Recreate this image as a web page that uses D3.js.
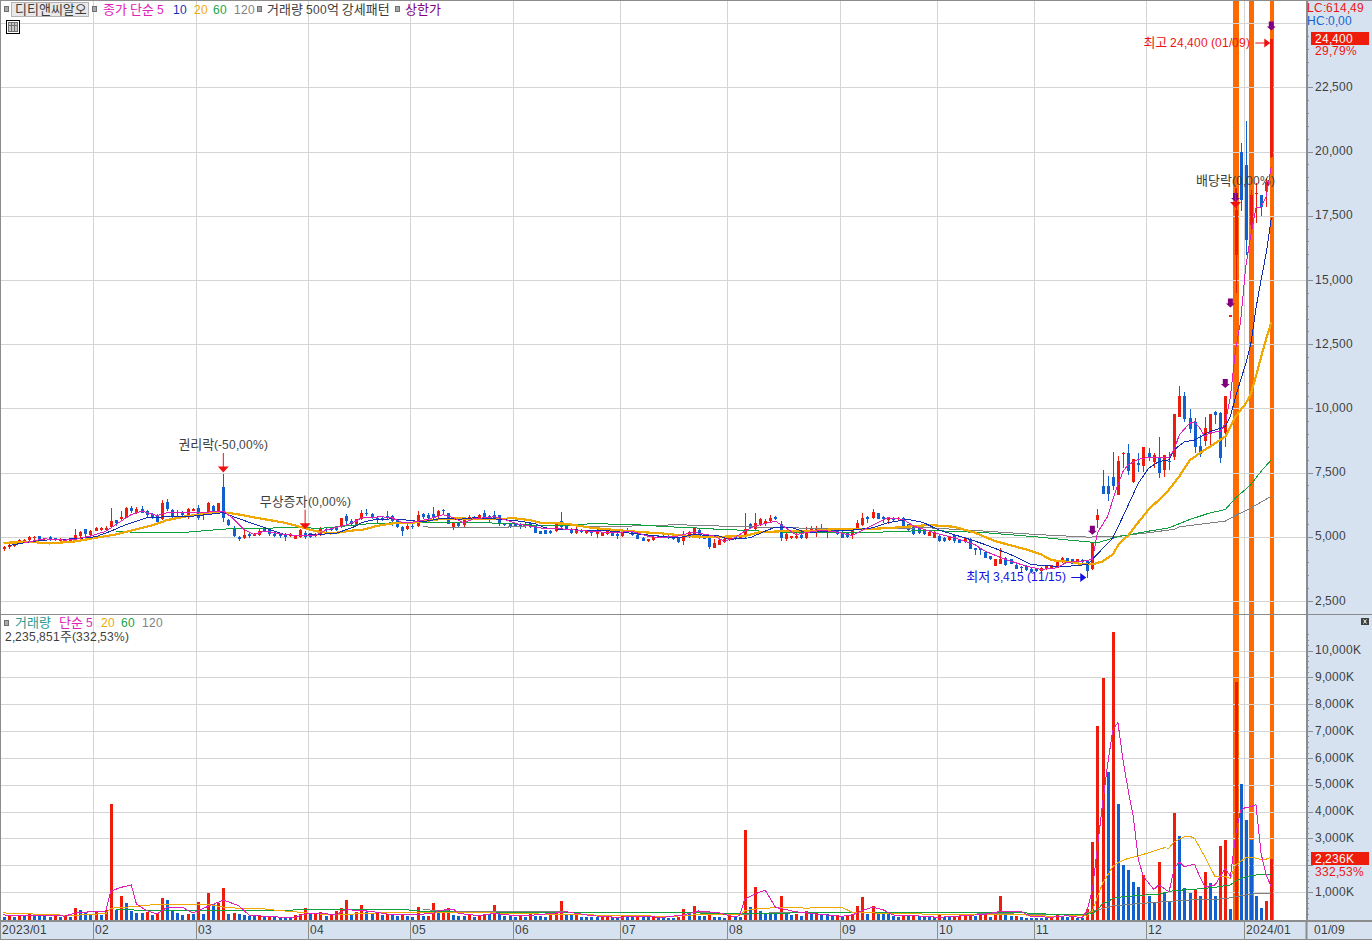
<!DOCTYPE html>
<html>
<head>
<meta charset="utf-8">
<script src="https://cdn.jsdelivr.net/npm/d3@7"></script>
<style>
  /* digits come out a bit smaller than the hangul, like the bitmap font of the original */
  @font-face { font-family: "HtsLatin"; src: local("Liberation Sans"); size-adjust: 91%; }
  html, body { margin: 0; padding: 0; background: #fff; }
  svg { display: block; }
  text { font-family: "HtsLatin", "Noto Sans CJK KR", "Noto Sans", sans-serif; font-size: 13px; }
</style>
</head>
<body>
<svg id="chart" width="1372" height="940"></svg>
<script>
// daily candles, [open, high, low, close]
const ohlcJan = [
  [4530,4640,4440,4610],[4600,4770,4530,4700],[4660,4790,4610,4740],[4750,4910,4730,4880],[4770,4910,4740,4880],
  [4860,5030,4830,4990],[4940,5050,4870,5000],[5040,5050,4900,4910],[4920,4970,4830,4970],[4990,5030,4830,4900],
  [4940,4960,4820,4860],[4830,4960,4770,4910],[4880,4920,4770,4810],[4820,4960,4790,4920],[4870,5290,4830,5070],
  [5030,5220,4900,5170],[5290,5310,4960,5090],[5070,5250,5050,5230]]
const ohlcFeb = [
  [5230,5380,5210,5340],[5260,5390,5210,5340],[5250,5420,5220,5330],[5390,6140,5350,5610],[5640,5650,5420,5550],
  [5680,6000,5610,5780],[5740,6170,5720,6110],[6110,6200,5910,6000],[5940,6160,5870,6070],[6070,6200,5910,5940],
  [6000,6040,5740,5830],[5870,5910,5700,5780],[5830,5870,5550,5570],[5680,6430,5650,6300],[6350,6460,6000,6070],
  [6040,6070,5740,5780],[5910,6030,5700,5980],[5960,6000,5780,5830],[5780,6110,5700,6070],[6010,6140,5990,6090]]
const ohlcMar = [
  [6130,6220,5650,5720],[5910,5960,5650,5830],[5880,6350,5860,6300],[6200,6250,5880,5940],[5960,6330,5940,6300],
  [6920,7430,5570,5740],[5650,5700,5420,5470],[5360,5420,4990,5030],[5000,5030,4830,4920],[4950,5290,4900,5080],
  [5100,5160,4960,5030],[5050,5160,5030,5120],[5080,5290,5050,5220],[5310,5340,5180,5220],[5290,5340,5030,5090],
  [5100,5130,5000,5050],[5130,5160,4960,5030],[5100,5160,4830,5000],[5030,5130,4990,5090],[4920,5080,4900,5050],
  [4990,5310,4960,5250],[5160,5220,4900,5000]]
const ohlcApr = [
  [5130,5160,4960,5000],[5030,5130,5000,5100],[5080,5390,5050,5310],[5310,5350,5160,5260],[5350,5390,5210,5260],
  [5340,5420,5220,5290],[5440,5740,5350,5720],[5810,5870,5480,5610],[5620,5680,5440,5490],[5470,5700,5420,5680],
  [5700,6030,5650,5910],[5940,6070,5810,5910],[5870,5940,5680,5740],[5740,5810,5550,5650],[5740,5810,5610,5700],
  [5810,5990,5680,5750],[5820,5850,5440,5600],[5680,5700,5350,5380],[5390,5420,5050,5230],[5290,5550,5260,5420]]
const ohlcMay = [
  [5440,5490,5290,5420],[5420,5990,5390,5830],[5870,5940,5680,5770],[5830,5940,5680,5720],[5870,6170,5700,5780],
  [5820,6040,5740,6010],[6050,6070,5860,5990],[5910,5940,5480,5490],[5360,5570,5260,5550],[5550,5570,5340,5440],
  [5460,5700,5390,5650],[5640,5830,5600,5780],[5780,5810,5650,5700],[5730,5880,5680,5830],[5940,6030,5730,5750],
  [5810,5830,5550,5780],[5830,5990,5700,5750],[5830,5860,5440,5490],[5520,5550,5430,5460],[5480,5510,5340,5390]]
const ohlcJun = [
  [5490,5520,5390,5430],[5480,5550,5290,5420],[5440,5570,5340,5480],[5520,5550,5360,5390],[5440,5470,5130,5160],
  [5210,5230,5090,5120],[5250,5270,5090,5120],[5230,5250,5120,5130],[5220,5510,5200,5480],[5600,5960,5360,5390],
  [5440,5470,5260,5290],[5310,5340,5090,5130],[5130,5380,5100,5220],[5260,5290,5130,5180],[5130,5260,5120,5230],
  [5220,5250,5050,5130],[5090,5290,4970,5220],[5050,5180,5040,5160],[5100,5340,5080,5210],[5180,5210,5030,5050],
  [5090,5160,4920,5030]]
const ohlcJul = [
  [5030,5210,5000,5180],[5160,5330,5130,5230],[5220,5250,5050,5070],[5080,5100,4900,4920],[4970,5000,4820,4840],
  [4820,4920,4810,4900],[4870,5040,4840,5010],[5050,5080,4950,4970],[5050,5120,4970,5000],[5050,5080,4920,4950],
  [5030,5050,4870,4900],[4950,4970,4770,4790],[4820,5230,4700,5050],[5030,5220,4950,5180],[5050,5350,5030,5330],
  [5250,5290,4900,5000],[5050,5080,4900,4920],[4990,5010,4510,4610],[4580,4900,4560,4740],[4700,4900,4680,4860],
  [4790,4950,4770,4920]]
const ohlcAug = [
  [4860,5050,4830,5000],[5030,5050,4870,4920],[4920,5050,4900,5040],[5000,5910,4970,5310],[5480,5550,5290,5330],
  [5290,5910,5260,5550],[5460,5750,5420,5680],[5510,5680,5420,5620],[5610,5830,5520,5740],[5780,5820,5650,5680],
  [5510,5610,4830,4960],[4900,5130,4830,5090],[4950,5050,4920,5030],[4950,5160,4900,5050],[5070,5090,4920,4950],
  [4970,5390,4920,5260],[5180,5440,5130,5310],[5160,5420,5000,5310],[5290,5480,5130,5180],[5310,5350,4960,5260],
  [5260,5290,5160,5220],[5260,5290,5070,5090]]
const ohlcSep = [
  [5180,5210,4950,4970],[5160,5180,4970,5000],[5080,5310,4920,5290],[5310,5650,5290,5550],[5470,5940,5440,5730],
  [5780,5810,5550,5700],[5720,6070,5690,5960],[5910,5940,5680,5700],[5780,5810,5520,5700],[5650,5780,5480,5740],
  [5740,5780,5610,5650],[5680,5780,5650,5740],[5740,5770,5330,5350],[5480,5510,5230,5260],[5390,5420,5070,5090],
  [5350,5380,5090,5160],[5260,5290,5070,5090],[5050,5210,5030,5180],[4960,5210,4940,5180]]
const ohlcOct = [
  [5050,5080,4810,4830],[4960,4990,4790,4830],[4860,5030,4830,5000],[5080,5100,4740,4830],[4900,4920,4740,4770],
  [4790,4990,4770,4960],[4920,4950,4510,4530],[4560,4580,4310,4510],[4560,4580,4300,4510],[4400,4430,4160,4180],
  [4250,4270,4090,4120],[3880,4140,3860,4120],[3960,4580,3930,4140],[4180,4210,3880,3910],[4120,4140,3930,3960],
  [3910,3930,3730,3750],[3830,3860,3600,3780],[3880,3910,3670,3700],[3750,3780,3600,3620]]
const ohlcNov = [
  [3750,3780,3620,3650],[3660,3820,3640,3790],[3730,3880,3700,3860],[3790,3920,3770,3900],[3790,4060,3770,4040],
  [4010,4220,3990,4190],[4170,4190,4040,4060],[4120,4140,3930,3960],[3990,4140,3960,4120],[4090,4120,3990,4010],
  [4080,4100,3415,3670],[3730,4770,3700,4770],[5670,6090,5350,5850],[6960,7610,6680,6680],[6990,7380,6410,6680],
  [7340,8300,6840,6990],[6640,8150,6640,7960],[8230,8300,7670,8280],[8260,8620,7420,7580],[7130,8020,7100,8020],
  [7870,8260,7530,7780],[7740,8490,7530,8490]]
const ohlcDec = [
  [8260,8450,7960,8090],[7930,8280,7670,8190],[8100,8880,7290,7470],[7610,8190,7330,8190],[7960,8300,7610,7910],
  [8090,9770,8000,9770],[9680,10870,9680,10480],[10480,10630,9470,9570],[9640,9960,9030,9190],[9480,9630,8280,8480],
  [8520,8970,8090,8220],[8730,9680,8540,9240],[9010,9780,8520,9780],[9860,9900,9390,9760],[9810,9860,7890,8050],
  [9060,10480,8480,10480],[13590,13620,13590,13620],[15980,18600,14480,17730],[20000,20320,17670,18120]]
const ohlcJan24 = [
  [19490,21200,15980,16540],[17150,18500,16830,18320],[18330,18780,17210,18390],[18320,18320,17480,17840],[18450,18970,17860,18800],
  [19780,24400,19750,24400]]

// traded volume in thousands of shares, one list per month as well
const volJan = [75,160,75,125,120,175,110,105,100,70,100,85,110,80,410,335,220,170]
const volFeb = [270,160,320,4280,335,855,595,300,225,220,270,150,200,780,705,310,225,150,185,180]
const volMar = [630,185,965,560,595,1150,185,220,185,150,110,105,120,80,90,60,55,50,48,150,185,410]
const volApr = [175,200,260,125,185,310,410,705,160,260,520,260,220,225,150,170,160,110,185,110]
const volMay = [75,445,110,125,595,310,335,410,150,110,105,185,75,110,180,175,520,185,110,105]
const volJun = [75,150,75,185,110,105,75,150,285,670,200,145,150,75,72,70,68,100,125,75,72]
const volJul = [100,75,70,100,75,62,75,50,48,46,45,62,370,235,485,110,105,225,75,70,50]
const volAug = [100,62,60,3310,445,1190,300,200,198,195,855,185,150,185,110,300,175,225,200,198,110,150]
const volSep = [75,100,185,485,820,200,485,185,183,180,110,75,125,110,150,125,100,75,72]
const volOct = [185,75,70,100,110,120,185,110,150,152,75,185,855,150,105,110,75,50,48]
const volNov = [46,45,44,125,150,75,72,75,50,48,360,2870,7190,8980,5490,10690,4280,2010,1825,1380,1190,1640]
const volDec = [860,600,2120,955,670,3950,3090,1155,970,1080,860,1750,1340,860,2720,2940,370,8830,5030]
const volJan24 = [3690,2940,860,410,670,2236]

// price moving averages as [day, value], read where the line can be seen
const priceMa5 = [[4,4770],[8,4920],[12,4870],[14,4900],[17,5030],[20,5210],[24,5740],[25,5870],[27,6000],[30,5830],[32,5940],[34,5960],[38,5940],[43,6000],[45,5700],[47,5290],[49,5090],[51,5220],[55,5090],[58,5050],[61,5050],[63,5260],[67,5460],[69,5610],
  [70,5740],[71,5740],[74,5780],[76,5740],[78,5550],[80,5570],[83,5680],[86,5860],[88,5740],[90,5550],[92,5700],[96,5780],[99,5610],[101,5480],[104,5390],[106,5310],[109,5310],[112,5260],[115,5210],[119,5160],[123,5210],[126,5030],[128,4960],[132,5030],[135,5180],[139,5030],
  [141,4830],[143,4960],[145,5220],[147,5420],[149,5520],[151,5610],[153,5350],[155,5090],[157,5160],[160,5260],[163,5180],[166,5050],[169,5350],[171,5550],[173,5740],[176,5680],[178,5420],[182,5160],[186,4960],[190,4700],[192,4440],[196,4120],[200,3860],[203,3730],[206,3790],[208,4010],[211,4040],
  [213,4120],[214,5160],[216,5800],[217,6450],[218,7030],[219,7550],[220,7800],[222,8020],[224,8100],[226,8080],[228,8100],[229,8390],[230,8970],[232,9420],[233,9480],[234,9230],[235,8900],[236,9060],[238,9100],[239,9420],[240,10450],[241,12260],[242,13400],[243,15520],[244,16760],[245,17800],[246,17840],[247,18250],[248,19420]]
const priceMa10 = [[1,4660],[6,4830],[10,4900],[14,4920],[18,5000],[21,5220],[24,5480],[28,5740],[32,5780],[36,5780],[40,5870],[43,5940],[45,5780],[48,5570],[52,5290],[55,5090],[58,5050],[61,5090],[65,5130],[69,5420],
  [70,5550],[72,5650],[76,5700],[79,5650],[82,5580],[86,5730],[89,5680],[92,5740],[96,5700],[101,5610],[104,5510],[106,5350],[109,5290],[113,5260],[117,5260],[121,5180],[125,5090],[128,5030],[132,4960],[135,5090],[140,5030],
  [142,4900],[146,4960],[149,5220],[151,5380],[154,5380],[157,5160],[162,5220],[166,5260],[170,5350],[173,5550],[177,5680],[180,5550],[183,5260],[189,4900],[192,4700],[197,4310],[201,3920],[207,3830],[212,3920],
  [213,4120],[217,4960],[219,5800],[222,7090],[224,7670],[226,7930],[228,8000],[229,8390],[231,8700],[233,8770],[236,9100],[239,9290],[240,9680],[241,10450],[243,11740],[244,12520],[245,13900],[246,15000],[247,16040],[248,17410]]
const priceMa20 = [[0,4770],[6,4790],[9,4740],[14,4820],[18,4960],[22,5090],[26,5290],[29,5440],[32,5650],[36,5810],[40,5910],[43,5960],[46,5870],[50,5720],[55,5550],[58,5390],[61,5220],[64,5130],[69,5260],
  [70,5260],[73,5420],[76,5520],[80,5550],[85,5680],[89,5720],[94,5680],[98,5680],[99,5740],[103,5650],[105,5550],[110,5510],[115,5350],[120,5260],[125,5180],[129,5130],[132,5070],[135,5010],[140,5000],
  [145,5030],[148,5180],[153,5220],[158,5220],[163,5310],[168,5290],[174,5350],[181,5460],[186,5390],[190,5160],[194,4830],[200,4510],[203,4310],[205,4090],[209,4010],
  [211,3930],[213,3930],[215,4040],[217,4320],[218,4660],[219,4870],[220,5050],[221,5310],[222,5570],[224,6060],[226,6440],[228,6840],[230,7350],[232,7970],[234,8260],[237,8640],[239,8900],[240,9290],[241,9680],[243,10190],[244,10580],[245,11260],[246,12000],[247,12700],[248,13360]]
const priceMa60 = [[22,5220],[27,5160],[36,5180],[40,5250],[44,5310],[49,5330],[55,5350],[59,5350],[62,5330],[69,5460],
  [70,5480],[72,5520],[78,5550],[85,5550],[93,5550],[99,5520],[104,5440],[110,5440],[115,5510],[123,5480],[130,5390],[135,5350],[140,5290],
  [144,5260],[153,5180],[162,5180],[171,5180],[181,5250],[192,5160],[202,5000],[209,4860],[214,4770],
  [218,5000],[224,5220],[228,5350],[232,5670],[236,5930],[239,6060],[241,6510],[244,7030],[246,7550],[248,8000]]
const priceMa120 = [[82,5390],[87,5350],[96,5350],[104,5440],[112,5420],[123,5420],[132,5470],[140,5420],
  [153,5350],[166,5310],[181,5350],[192,5220],[202,5090],[212,4990],
  [217,5000],[224,5160],[229,5290],[230,5390],[239,5610],[241,5830],[244,6120],[248,6580]]

// volume moving averages, same [day, value] form
const volMa5 = [[0,150],[3,135],[9,125],[12,110],[14,220],[17,270],[20,300],[21,1040],[23,1180],[25,1265],[26,560],[28,310],[30,185],[32,435],[35,435],[37,225],[40,470],[43,705],[46,500],[48,150],[51,100],[55,62],[57,62],[59,185],[62,220],[65,150],[67,350],[72,285],[76,150],
  [78,150],[84,200],[85,310],[88,370],[89,210],[93,124],[96,210],[100,124],[104,150],[108,225],[110,270],[115,124],[120,62],[124,100],[129,62],[133,150],[136,300],[140,225],[143,75],[144,124],[145,745],[147,930],[149,1080],[151,435],[155,270],
  [159,185],[164,100],[166,150],[168,310],[170,445],[172,350],[174,150],[178,124],[183,62],[188,124],[192,175],[195,285],[199,285],[201,100],[205,62],[208,124],[211,50],
  [212,335],[213,1080],[214,2690],[215,4300],[216,5790],[217,7040],[218,7320],[219,5920],[220,4800],[221,3810],[222,2200],[223,1580],[225,1100],[226,1270],[228,1010],[229,1890],[230,2130],[231,1950],[233,2040],[234,1580],[235,1200],[237,1270],[239,1890],[240,1580],[241,3110],[242,4050],[243,4160],[244,4180],[245,4270],[246,2440],[247,1640],[248,1200]]
const volMa20 = [[0,225],[5,210],[6,175],[11,150],[13,125],[17,175],[20,200],[21,400],[26,470],[30,545],[40,545],[43,445],[46,400],[50,400],[52,350],[55,300],[58,250],[62,185],[65,150],[70,200],[76,250],
  [78,250],[90,225],[96,225],[105,185],[115,150],[125,124],[130,87],[135,150],[140,150],[144,150],[145,310],[147,370],[150,410],[155,435],
  [157,400],[160,435],[164,435],[166,250],[170,225],[180,185],[190,150],[195,175],[200,150],[205,100],[210,124],[212,110],
  [213,300],[214,830],[215,1330],[216,1640],[217,1950],[218,2100],[220,2260],[222,2350],[224,2470],[227,2650],[228,2640],[229,2880],[231,3060],[232,3090],[233,3000],[235,2320],[237,1580],[239,1580],[240,1510],[241,2010],[243,2280],[244,2310],[246,2220],[247,2230],[248,2300]]
const volMa60 = [[22,370],[25,350],[27,300],[40,320],[50,330],[76,350],[78,360],[81,300],[88,260],[100,225],[115,225],[135,225],[145,210],[155,225],[160,225],[200,225],[205,175],[211,150],
  [213,210],[214,335],[215,580],[216,640],[217,770],[219,830],[221,860],[223,890],[226,930],[229,1060],[233,1110],[237,1180],[240,1270],[241,1420],[243,1580],[245,1640],[248,1640]]
const volMa120 = [[82,350],[86,310],[90,270],[110,270],[112,225],[123,225],[140,225],[145,175],[150,225],[165,225],[190,225],[205,150],[211,150],
  [212,230],[214,335],[217,490],[221,555],[226,630],[233,720],[239,750],[241,830],[245,950],[248,950]]

// axis and event lists
const monthIdx = [18,38,60,80,100,121,142,164,183,202,224,243]
const monthLabels = ["02","03","04","05","06","07","08","09","10","11","12","2024/01"]
const priceTicks = [2500,5000,7500,10000,12500,15000,17500,20000,22500]
const priceMinor = d3.range(2500, 25001, 500)
const volTicks = [1000,2000,3000,4000,5000,6000,7000,8000,9000,10000]
const volMinor = d3.range(200, 10601, 200)
const patternIdx = [241,244,248]
const patternW = [6,5,4]
const limitUpIdx = [213,239,240,241,248]
const eventIdx = [43,59,241]
const eventPrice = [7430,5220,17730]
const eventLabels = ["권리락(-50,00%)","무상증자(0,00%)","배당락(0,00%)"]

const ohlc = [].concat(ohlcJan,ohlcFeb,ohlcMar,ohlcApr,ohlcMay,ohlcJun,ohlcJul,ohlcAug,ohlcSep,ohlcOct,ohlcNov,ohlcDec,ohlcJan24)
const volume = [].concat(volJan,volFeb,volMar,volApr,volMay,volJun,volJul,volAug,volSep,volOct,volNov,volDec,volJan24)

const RED = "#ee1c0a", BLUE = "#1060d0", GRID = "#d4d4d4", PANEL = "#d6e2f0", EDGE = "#8c8c8c", DARK = "#3c3c3c"
const ORANGE_MA = "#f0a800", GREEN = "#10a040", GRAY = "#808080", MAGENTA = "#e020b8", NAVY = "#1030b0", PURPLE = "#800080"
const plotR = 1306, volBase = 920

const svg = d3.select("#chart")
const x = d3.scaleLinear().domain([0, 248]).range([3.5, 1271.3])
const y = d3.scaleLinear().domain([2500, 25000]).range([601, 23.2])
const yv = d3.scaleLinear().domain([0, 10000]).range([919, 650.6])
const gridX = d => Math.round(x(d) - 2.2) + 0.5

svg.append("g").selectAll("line").data(monthIdx).enter().append("line")
  .attr("x1", gridX).attr("x2", gridX)
  .attr("y1", 1).attr("y2", volBase)
  .attr("stroke", GRID).attr("shape-rendering", "crispEdges")

// 거래량 500억 강세패턴 bands
svg.append("g").selectAll("rect").data(patternIdx).enter().append("rect")
  .attr("x", (d, i) => Math.round(x(d) - patternW[i] / 2 + 0.3)).attr("width", (d, i) => patternW[i])
  .attr("y", 0).attr("height", volBase)
  .attr("fill", "#ff6a00").attr("shape-rendering", "crispEdges")

// horizontal grid comes straight from the axes, it runs over the bands
svg.append("g").attr("class", "grid").attr("transform", "translate(1,0)")
  .call(d3.axisRight(y).tickValues(priceTicks.concat([25000])).tickSize(plotR - 1).tickFormat(""))
svg.append("g").attr("class", "grid").attr("transform", "translate(1,0)")
  .call(d3.axisRight(yv).tickValues(volTicks).tickSize(plotR - 1).tickFormat(""))
svg.selectAll(".grid .domain").remove()
svg.selectAll(".grid line").attr("stroke", GRID).attr("shape-rendering", "crispEdges")

const isUp = d => d[3] >= d[0]

// candles
const candle = svg.append("g").attr("shape-rendering", "crispEdges")
candle.selectAll("line").data(ohlc).enter().append("line")
  .attr("x1", (d, i) => Math.round(x(i)) + 0.5).attr("x2", (d, i) => Math.round(x(i)) + 0.5)
  .attr("y1", d => y(d[1])).attr("y2", d => y(d[2]))
  .attr("stroke", d => isUp(d) ? RED : BLUE)
candle.selectAll("rect").data(ohlc).enter().append("rect")
  .attr("x", (d, i) => Math.round(x(i)) - 1).attr("width", 3)
  .attr("y", d => y(Math.max(d[0], d[3])))
  .attr("height", d => Math.max(1.5, Math.abs(y(d[0]) - y(d[3]))))
  .attr("fill", d => isUp(d) ? RED : BLUE)

// volume bars, red when the day traded more than the one before
svg.append("g").attr("shape-rendering", "crispEdges")
  .selectAll("rect").data(volume).enter().append("rect")
  .attr("x", (d, i) => Math.round(x(i)) - 1).attr("width", 3)
  .attr("y", d => yv(d)).attr("height", d => volBase - yv(d))
  .attr("fill", (d, i) => i > 0 && d > volume[i - 1] ? RED : BLUE)

const drawMa = (pts, scale, color, w) => {
  const line = d3.line().x(d => x(d[0])).y(d => scale(d[1]))
  svg.append("path").attr("d", line(pts)).attr("fill", "none")
    .attr("stroke", color).attr("stroke-width", w).attr("shape-rendering", "crispEdges")
}
drawMa(priceMa120, y, GRAY, 1)
drawMa(priceMa60, y, GREEN, 1)
drawMa(priceMa20, y, ORANGE_MA, 2.2)
drawMa(priceMa10, y, NAVY, 1)
drawMa(priceMa5, y, MAGENTA, 1)
drawMa(volMa120, yv, GRAY, 1)
drawMa(volMa60, yv, GREEN, 1)
drawMa(volMa20, yv, ORANGE_MA, 1)
drawMa(volMa5, yv, MAGENTA, 1)

// 상한가 arrows above the closing price
svg.append("g").selectAll("path").data(limitUpIdx).enter().append("path")
  .attr("transform", d => "translate(" + x(d) + "," + (y(ohlc[d][3]) - 8) + ")")
  .attr("d", "M-2.5,-9H2.5V-4H4.5L0,0L-4.5,-4H-2.5Z")
  .attr("fill", PURPLE)

// 권리락 style event arrows and their labels
const ev = svg.append("g").selectAll("g").data(eventIdx).enter().append("g")
  .attr("transform", (d, i) => "translate(" + x(d) + "," + (y(eventPrice[i]) - 2) + ")")
ev.append("path").attr("d", "M-0.5,-19.5H0.5V-6H5.5L0,0L-5.5,-6H-0.5Z").attr("fill", "#f01010")
ev.append("text").text((d, i) => eventLabels[i])
  .attr("y", -27.5).attr("dy", "0.35em").attr("text-anchor", "middle").attr("fill", DARK)

// high and low callouts
const hiIdx = 248, loIdx = 212
svg.append("text").text("최고 24,400 (01/09)").attr("x", x(hiIdx) - 21).attr("y", y(24400) + 4)
  .attr("dy", "0.35em").attr("text-anchor", "end").attr("fill", "#f01010")
svg.append("path").attr("d", "M0,-0.5H9V-4.5L15,0L9,4.5V0.5H0Z")
  .attr("transform", "translate(" + (x(hiIdx) - 16) + "," + (y(24400) + 4.5) + ")").attr("fill", "#f01010")
svg.append("text").text("최저 3,415 (11/15)").attr("x", x(loIdx) - 21).attr("y", y(3415) - 1)
  .attr("dy", "0.35em").attr("text-anchor", "end").attr("fill", "#1010e0")
svg.append("path").attr("d", "M0,-0.5H9V-4.5L15,0L9,4.5V0.5H0Z")
  .attr("transform", "translate(" + (x(loIdx) - 16) + "," + (y(3415)) + ")").attr("fill", "#1010e0")

// right value panel
svg.append("rect").attr("x", plotR).attr("y", 0).attr("width", 1372 - plotR).attr("height", 940).attr("fill", PANEL)
svg.append("line").attr("x1", plotR + 0.5).attr("x2", plotR + 0.5).attr("y1", 0).attr("y2", 940)
  .attr("stroke", EDGE).attr("stroke-width", 2).attr("shape-rendering", "crispEdges")

// pane divider runs the whole width
svg.append("line").attr("x1", 0).attr("x2", 1372).attr("y1", 614.5).attr("y2", 614.5)
  .attr("stroke", EDGE).attr("shape-rendering", "crispEdges")

const axisStyle = (g, color) => {
  g.select(".domain").remove()
  g.selectAll("line").attr("stroke", color).attr("shape-rendering", "crispEdges")
  g.selectAll("text").attr("fill", DARK).attr("font-size", "13px").attr("x", 9).attr("y", -1)
}
svg.append("g").attr("transform", "translate(" + plotR + ",0)")
  .call(d3.axisRight(y).tickValues(priceMinor).tickSize(3).tickFormat("")).call(axisStyle, EDGE)
svg.append("g").attr("transform", "translate(" + plotR + ",0)")
  .call(d3.axisRight(y).tickValues(priceTicks).tickSize(7).tickFormat(d3.format(","))).call(axisStyle, EDGE)
svg.append("g").attr("transform", "translate(" + plotR + ",0)")
  .call(d3.axisRight(yv).tickValues(volMinor).tickSize(3).tickFormat("")).call(axisStyle, EDGE)
// the 2,000K label sits under the current value tag, so it stays empty
svg.append("g").attr("transform", "translate(" + plotR + ",0)")
  .call(d3.axisRight(yv).tickValues(volTicks).tickSize(7).tickFormat(d => d === 2000 ? "" : d3.format(",")(d) + "K")).call(axisStyle, EDGE)

const putText = (s, px, py, color, size) => svg.append("text").text(s).attr("x", px).attr("y", py)
  .attr("dy", "0.35em").attr("fill", color).attr("font-size", (size || 13) + "px")

putText("LC:614,49", 1307, 7.5, "#f01010")
putText("HC:0,00", 1307, 20, BLUE)
svg.append("rect").attr("x", 1311).attr("y", 32).attr("width", 58).attr("height", 13).attr("fill", RED)
putText("24,400", 1315, 38, "#fff")
putText("29,79%", 1315, 50.5, "#f01010")
svg.append("rect").attr("x", 1311).attr("y", 852).attr("width", 58).attr("height", 13).attr("fill", RED)
putText("2,236K", 1315, 858, "#fff")
putText("332,53%", 1315, 871.5, "#f01010")

// bottom date strip
svg.append("rect").attr("x", 0).attr("y", 921).attr("width", 1372).attr("height", 18).attr("fill", PANEL)
svg.append("line").attr("x1", 0).attr("x2", 1372).attr("y1", 921).attr("y2", 921).attr("stroke", EDGE).attr("stroke-width", 2)
svg.append("line").attr("x1", 0).attr("x2", 1372).attr("y1", 939.5).attr("y2", 939.5).attr("stroke", EDGE)
svg.append("line").attr("x1", plotR + 0.5).attr("x2", plotR + 0.5).attr("y1", 921).attr("y2", 940).attr("stroke", EDGE).attr("stroke-width", 2)
svg.append("g").selectAll("line").data(monthIdx).enter().append("line")
  .attr("x1", gridX).attr("x2", gridX)
  .attr("y1", 921).attr("y2", 939).attr("stroke", EDGE).attr("shape-rendering", "crispEdges")
svg.append("g").selectAll("text").data(monthIdx).enter().append("text")
  .text((d, i) => monthLabels[i])
  .attr("x", d => gridX(d) + 1.5).attr("y", 929).attr("dy", "0.35em").attr("fill", DARK)
putText("2023/01", 2, 929, DARK)
putText("01/09", 1314, 929, DARK)

// frame
svg.append("line").attr("x1", 0).attr("x2", 1372).attr("y1", 0.5).attr("y2", 0.5).attr("stroke", EDGE)
svg.append("line").attr("x1", 0.5).attr("x2", 0.5).attr("y1", 0).attr("y2", 940).attr("stroke", EDGE)

// legends
const legendBox = (px, py) => svg.append("rect").attr("x", px + 0.5).attr("y", py + 0.5).attr("width", 4).attr("height", 5)
  .attr("fill", "#a8a8a8").attr("stroke", "#707070").attr("shape-rendering", "crispEdges")
legendBox(4, 6)
svg.append("rect").attr("x", 11.5).attr("y", 2.5).attr("width", 77).attr("height", 14)
  .attr("fill", "#e8e8e8").attr("stroke", "#b4b4b4").attr("shape-rendering", "crispEdges")
putText("디티앤씨알오", 15, 9.5, DARK)
legendBox(92, 6)
putText("종가 단순 5", 103, 9, MAGENTA)
putText("10", 173, 9, NAVY)
putText("20", 194, 9, ORANGE_MA)
putText("60", 213, 9, GREEN)
putText("120", 234, 9, GRAY)
legendBox(257, 6)
putText("거래량 500억 강세패턴", 267, 9, DARK)
legendBox(395, 6)
putText("상한가", 405, 9, PURPLE)

// small table button under the title
svg.append("rect").attr("x", 6.5).attr("y", 20.5).attr("width", 13).attr("height", 13)
  .attr("fill", "#fff").attr("stroke", "#000").attr("shape-rendering", "crispEdges")
svg.append("rect").attr("x", 8.5).attr("y", 22.5).attr("width", 9).attr("height", 9)
  .attr("fill", "#c8c8c8").attr("stroke", "#707070").attr("shape-rendering", "crispEdges")
svg.append("path").attr("d", "M11.5,22.5V31.5M14.5,22.5V31.5M8.5,25.5H17.5").attr("stroke", "#707070")
  .attr("fill", "none").attr("shape-rendering", "crispEdges")

legendBox(4, 620)
putText("거래량", 15, 622.5, "#2a9a90")
putText("단순 5", 59, 622.5, MAGENTA)
putText("20", 101, 622.5, ORANGE_MA)
putText("60", 121, 622.5, GREEN)
putText("120", 142, 622.5, GRAY)
putText("2,235,851주(332,53%)", 5, 636, DARK)

// close box of the volume pane
svg.append("rect").attr("x", 1361).attr("y", 618).attr("width", 8).attr("height", 7).attr("fill", "#404040")
svg.append("path").attr("d", "M1363.5,619.5L1366.5,623.5M1366.5,619.5L1363.5,623.5").attr("stroke", "#fff").attr("fill", "none")
</script>
</body>
</html>
